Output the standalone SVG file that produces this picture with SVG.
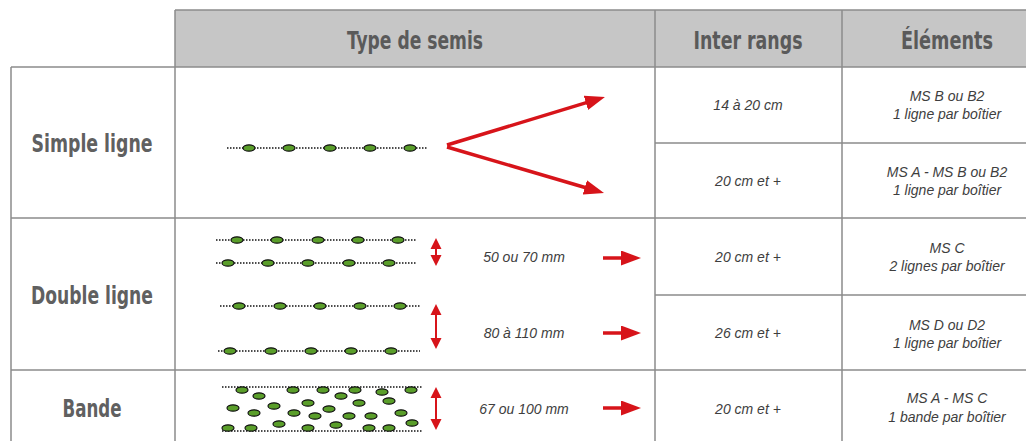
<svg xmlns="http://www.w3.org/2000/svg" width="1026" height="441" viewBox="0 0 1026 441">
<style>
.grid{stroke:#8c8c8c;stroke-width:1.5;fill:none}
.hdr{font-family:"DejaVu Sans Condensed","Liberation Sans",sans-serif;font-stretch:condensed;font-weight:bold;font-size:24px;fill:#5a5a5a;text-anchor:middle}
.lbl{font-family:"DejaVu Sans Condensed","Liberation Sans",sans-serif;font-stretch:condensed;font-weight:bold;font-size:25px;fill:#606060;text-anchor:middle}
.it{font-family:"Liberation Sans",Arial,sans-serif;font-style:italic;font-size:14px;fill:#3e3e3e;text-anchor:middle}
.it2{font-family:"Liberation Sans",Arial,sans-serif;font-style:italic;font-size:14px;fill:#3e3e3e;text-anchor:middle}
.dot{stroke:#111;stroke-width:1.3;stroke-dasharray:1.5 1.5;fill:none}
.seed{fill:#5a9e2a;stroke:#111;stroke-width:1.2}
.red{stroke:#d7141a;stroke-width:3.5;fill:none}
.red2{stroke:#d7141a;stroke-width:2;fill:none}
.rh{fill:#d7141a}
</style>
<defs>
<marker id="ah" markerUnits="userSpaceOnUse" markerWidth="20" markerHeight="15" refX="10" refY="7.5" orient="auto">
<path d="M0,0 L20,7.5 L0,15 Z" fill="#d7141a"/>
</marker>
<ellipse id="s" class="seed" cx="0" cy="0" rx="6" ry="3.2"/>
</defs>
<rect x="0" y="0" width="1026" height="441" fill="#fff"/>

<g id="grid">
<rect x="175" y="10" width="860" height="57" fill="#c6c6c6"/>
<path class="grid" d="M175,10 H1026 M11,67 H1026 M655,143 H1026 M11,218 H1026 M655,295 H1026 M11,370 H1026 M11,67 V441 M175,10 V441 M655,10 V441 M842,10 V441"/>
</g>

<g id="header">
<text class="hdr" x="415" y="49" textLength="136" lengthAdjust="spacingAndGlyphs">Type de semis</text>
<text class="hdr" x="748" y="49" textLength="109" lengthAdjust="spacingAndGlyphs">Inter rangs</text>
<text class="hdr" x="947" y="49" textLength="92" lengthAdjust="spacingAndGlyphs">Éléments</text>
</g>

<g id="simple-ligne">
<text class="lbl" x="92" y="152" textLength="121" lengthAdjust="spacingAndGlyphs">Simple ligne</text>
<line class="dot" x1="227" y1="148" x2="428" y2="148"/>
<use href="#s" x="249" y="148"/><use href="#s" x="289" y="148"/><use href="#s" x="330" y="148"/><use href="#s" x="370" y="148"/><use href="#s" x="410" y="148"/>
<text class="it" x="748" y="110">14 à 20 cm</text>
<text class="it2" x="947" y="101">MS B ou B2</text>
<text class="it2" x="947" y="119">1 ligne par boîtier</text>
<text class="it" x="748" y="186">20 cm et +</text>
<text class="it2" x="947" y="177">MS A - MS B ou B2</text>
<text class="it2" x="947" y="195">1 ligne par boîtier</text>
</g>

<g id="double-ligne">
<text class="lbl" x="92" y="304" textLength="122" lengthAdjust="spacingAndGlyphs">Double ligne</text>
<line class="dot" x1="216" y1="240" x2="417" y2="240"/>
<use href="#s" x="237" y="240"/><use href="#s" x="277" y="240"/><use href="#s" x="318" y="240"/><use href="#s" x="358" y="240"/><use href="#s" x="398" y="240"/>
<line class="dot" x1="216" y1="263" x2="417" y2="263"/>
<use href="#s" x="228" y="263"/><use href="#s" x="268" y="263"/><use href="#s" x="308" y="263"/><use href="#s" x="349" y="263"/><use href="#s" x="389" y="263"/>
<line class="dot" x1="220" y1="306" x2="421" y2="306"/>
<use href="#s" x="239" y="306"/><use href="#s" x="280" y="306"/><use href="#s" x="320" y="306"/><use href="#s" x="360" y="306"/><use href="#s" x="400" y="306"/>
<line class="dot" x1="218" y1="351" x2="420" y2="351"/>
<use href="#s" x="230" y="351"/><use href="#s" x="271" y="351"/><use href="#s" x="311" y="351"/><use href="#s" x="351" y="351"/><use href="#s" x="391" y="351"/>
<text class="it" x="524" y="262">50 ou 70 mm</text>
<text class="it" x="524" y="338">80 à 110 mm</text>
<text class="it" x="748" y="262">20 cm et +</text>
<text class="it2" x="947" y="253">MS C</text>
<text class="it2" x="947" y="271">2 lignes par boîtier</text>
<text class="it" x="748" y="338">26 cm et +</text>
<text class="it2" x="947" y="330">MS D ou D2</text>
<text class="it2" x="947" y="348">1 ligne par boîtier</text>
</g>

<g id="bande">
<text class="lbl" x="92" y="417" textLength="59" lengthAdjust="spacingAndGlyphs">Bande</text>
<line class="dot" x1="222" y1="387" x2="423" y2="387"/>
<line class="dot" x1="222" y1="431" x2="423" y2="431"/>
<use href="#s" x="242" y="390"/><use href="#s" x="259" y="396"/><use href="#s" x="293" y="390"/><use href="#s" x="323" y="390"/><use href="#s" x="341" y="396"/><use href="#s" x="355" y="390"/><use href="#s" x="382" y="392"/><use href="#s" x="411" y="390"/>
<use href="#s" x="233" y="408"/><use href="#s" x="254" y="413"/><use href="#s" x="274" y="406"/><use href="#s" x="308" y="403"/><use href="#s" x="294" y="413"/><use href="#s" x="315" y="416"/><use href="#s" x="329" y="409"/><use href="#s" x="349" y="416"/><use href="#s" x="359" y="403"/><use href="#s" x="371" y="416"/><use href="#s" x="389" y="401"/><use href="#s" x="401" y="413"/>
<use href="#s" x="228" y="428"/><use href="#s" x="251" y="428"/><use href="#s" x="279" y="424"/><use href="#s" x="308" y="428"/><use href="#s" x="336" y="425"/><use href="#s" x="369" y="428"/><use href="#s" x="389" y="428"/><use href="#s" x="412" y="423"/>
<text class="it" x="524" y="414">67 ou 100 mm</text>
<text class="it" x="748" y="414">20 cm et +</text>
<text class="it2" x="947" y="403">MS A - MS C</text>
<text class="it2" x="947" y="422">1 bande par boîtier</text>
</g>

<g id="connectors">
<line class="red" x1="447" y1="145" x2="595.4" y2="99.9" marker-end="url(#ah)"/>
<line class="red" x1="447" y1="147" x2="594.4" y2="190.2" marker-end="url(#ah)"/>
<line class="red" x1="603" y1="258" x2="631" y2="258" marker-end="url(#ah)"/>
<line class="red" x1="603" y1="333" x2="631" y2="333" marker-end="url(#ah)"/>
<line class="red" x1="603" y1="408" x2="631" y2="408" marker-end="url(#ah)"/>
<g>
<line class="red2" x1="436" y1="246" x2="436" y2="258"/>
<path class="rh" d="M436,238 L441.5,249 L430.5,249 Z M436,266 L441.5,255 L430.5,255 Z"/>
</g>
<g>
<line class="red2" x1="436" y1="312" x2="436" y2="341"/>
<path class="rh" d="M436,304 L441.5,315 L430.5,315 Z M436,349 L441.5,338 L430.5,338 Z"/>
</g>
<g>
<line class="red2" x1="436" y1="395" x2="436" y2="422"/>
<path class="rh" d="M436,387 L441.5,398 L430.5,398 Z M436,430 L441.5,419 L430.5,419 Z"/>
</g>
</g>
</svg>
